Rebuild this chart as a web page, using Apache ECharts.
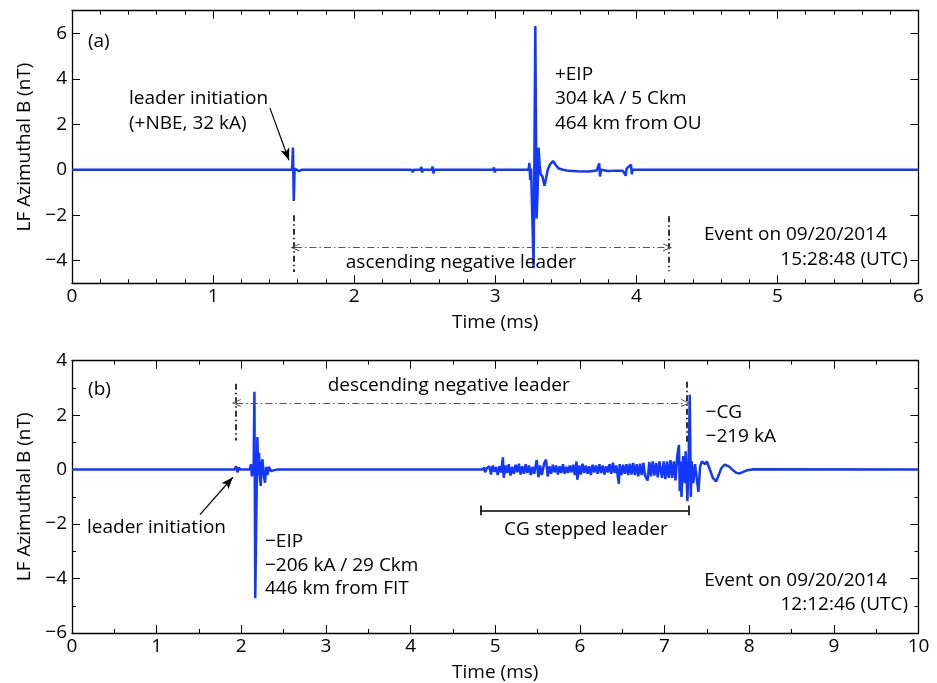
<!DOCTYPE html>
<html><head><meta charset="utf-8">
<script src="https://cdn.jsdelivr.net/npm/echarts@6/dist/echarts.min.js"></script>
<style>html,body{margin:0;padding:0;background:#fff}#c{width:937px;height:683px}</style>
</head><body><div id="c"></div>
<script>
// ---------- DATA (time in ms, LF azimuthal B in nT) ----------
const traceA = [
  [0,0],[1.560,0],[1.566,0.98],[1.572,-1.38],[1.578,0.05],[1.584,0],
  [1.610,-0.06],[1.620,-0.1],[1.630,0],
  [2.405,0],[2.410,0.08],[2.416,-0.1],[2.422,0],
  [2.470,0],[2.476,0.12],[2.482,-0.12],[2.488,0],
  [2.550,0],[2.556,0.14],[2.562,-0.16],[2.568,0],
  [2.985,0],[2.991,0.1],[2.997,-0.12],[3.003,0],
  [3.236,0],[3.242,0.3],[3.248,-0.45],[3.254,0.05],[3.262,0],
  [3.272,-4.33],[3.284,6.33],[3.293,-2.15],[3.300,-1.0],[3.307,0.97],
  [3.315,0.2],[3.322,-0.2],[3.335,-0.3],[3.349,-0.7],[3.360,-0.4],[3.372,0],
  [3.390,0.25],[3.410,0.38],[3.430,0.2],[3.450,0.05],[3.480,0],[3.520,-0.05],
  [3.580,-0.07],[3.660,-0.08],[3.720,-0.03],[3.737,0.28],[3.743,-0.3],[3.749,0],
  [3.760,-0.04],[3.800,-0.06],[3.860,-0.04],[3.905,-0.05],[3.925,-0.26],[3.931,0.05],
  [3.940,0],[3.962,0.22],[3.968,-0.2],[3.974,0],[3.985,-0.02],[4.020,0],[4.100,0],[6,0]
];
const traceB = [
  [0,0],[1.920,0],[1.940,0.12],[1.955,-0.1],[1.970,0.08],[1.985,0],
  [2.100,0],[2.115,0.2],[2.125,-0.25],[2.135,0.15],[2.145,-0.2],
  [2.155,2.86],[2.165,-4.72],[2.190,1.2],[2.200,-0.2],[2.210,0.62],[2.220,-0.3],
  [2.230,-0.6],[2.240,0.2],[2.250,0.38],[2.265,-0.2],[2.280,-0.48],[2.295,0.1],
  [2.310,-0.2],[2.325,0.1],[2.350,-0.05],[2.420,0],
  [4.850,0],[4.870,0.08],[4.880,-0.1],[4.900,0.05],[4.930,0.12],[4.950,-0.18],[4.970,0.15],
  [4.990,-0.08],[5.010,0.1],[5.030,-0.2],[5.050,0.12],[5.070,-0.1],[5.090,0.45],[5.100,-0.3],
  [5.120,0.15],[5.140,-0.12],[5.160,0.2],[5.180,-0.22],[5.200,0.1],[5.220,-0.15],[5.240,0.18],
  [5.260,-0.1],[5.280,0.22],[5.300,-0.18],[5.320,0.12],[5.340,-0.15],[5.360,0.2],[5.380,-0.12],
  [5.400,0.15],[5.420,-0.2],[5.440,0.1],[5.460,-0.15],[5.490,0.35],[5.510,-0.28],[5.530,0.15],
  [5.550,-0.2],[5.580,0.25],[5.600,0.37],[5.620,-0.25],[5.640,0.12],[5.660,-0.15],[5.680,0.18],
  [5.700,-0.1],[5.720,0.15],[5.740,-0.18],[5.760,0.12],[5.780,-0.12],[5.800,0.2],[5.820,-0.15],
  [5.840,0.1],[5.860,-0.12],[5.880,0.15],[5.900,-0.1],[5.920,0.18],[5.940,-0.2],[5.960,0.3],
  [5.970,-0.37],[5.990,0.15],[6.010,-0.18],[6.030,0.22],[6.050,-0.12],[6.070,0.15],[6.090,-0.15],
  [6.110,0.12],[6.130,-0.2],[6.150,0.18],[6.170,-0.1],[6.190,0.15],[6.210,-0.15],[6.230,0.2],
  [6.250,-0.12],[6.270,0.15],[6.290,-0.18],[6.310,0.12],[6.330,-0.1],[6.350,0.2],[6.370,-0.15],
  [6.390,0.25],[6.410,-0.12],[6.430,0.15],[6.460,-0.52],[6.470,0.2],[6.490,-0.2],[6.510,0.18],
  [6.530,-0.15],[6.550,0.2],[6.570,-0.2],[6.590,0.22],[6.610,-0.18],[6.630,0.25],[6.650,-0.2],
  [6.670,0.2],[6.690,-0.25],[6.710,0.22],[6.730,-0.2],[6.750,0.25],[6.770,-0.22],[6.800,-0.4],
  [6.820,0.28],[6.840,-0.25],[6.860,0.3],[6.880,-0.22],[6.900,0.25],[6.920,-0.28],[6.940,0.3],
  [6.960,0.37],[6.970,-0.3],[6.990,0.3],[7.010,-0.35],[7.030,0.3],[7.050,-0.3],[7.070,0.35],
  [7.090,-0.3],[7.110,0.3],[7.130,-0.4],[7.150,0.5],[7.170,0.91],[7.180,-0.79],[7.190,0.3],
  [7.200,-1.0],[7.220,0.5],[7.240,-0.5],[7.250,0.67],[7.270,-1.16],[7.285,0.4],[7.298,2.75],
  [7.310,-1.0],[7.320,0.3],[7.340,-0.5],[7.360,0.2],[7.380,-0.3],[7.400,-0.82],[7.420,0.1],
  [7.440,0.3],[7.460,0.37],[7.480,0.2],[7.500,0.3],[7.530,0.05],[7.570,-0.3],[7.610,-0.43],
  [7.640,-0.2],[7.670,0.05],[7.710,0.18],[7.760,0.12],[7.800,0],[7.850,-0.12],[7.890,-0.14],
  [7.930,-0.08],[7.980,-0.02],[8.050,0.01],[10,0]
];
const xRangeA = [0, 6];
const yRangeA = [-5, 7];
const yTicksA = [-4, -2, 0, 2, 4, 6];
const xRangeB = [0, 10];
const yRangeB = [-6, 4];
const yAxisTitle = 'LF Azimuthal B (nT)';
const xAxisTitle = 'Time (ms)';

// ---------- annotations (data coordinates) ----------
const notesA = [
  {text:'(a)', at:[0.113,5.62]},
  {text:'leader initiation', at:[0.404,3.15]},
  {text:'(+NBE, 32 kA)', at:[0.404,2.05]},
  {text:'+EIP', at:[3.423,4.17]},
  {text:'304 kA / 5 Ckm', at:[3.423,3.11]},
  {text:'464 km from OU', at:[3.423,2.05]},
  {text:'ascending negative leader', at:[2.757,-4.07], align:'center'},
  {text:'Event on 09/20/2014', at:[4.479,-2.84]},
  {text:'15:28:48 (UTC)', at:[5.925,-3.94], align:'right'}
];
const notesB = [
  {text:'(b)', at:[0.19,2.93]},
  {text:'descending negative leader', at:[4.45,3.07], align:'center'},
  {text:'leader initiation', at:[0.177,-2.13]},
  {text:'\u2212EIP', at:[2.28,-2.63]},
  {text:'\u2212206 kA / 29 Ckm', at:[2.28,-3.52]},
  {text:'446 km from FIT', at:[2.28,-4.37]},
  {text:'\u2212CG', at:[7.484,2.11]},
  {text:'\u2212219 kA', at:[7.484,1.22]},
  {text:'CG stepped leader', at:[6.07,-2.2], align:'center'},
  {text:'Event on 09/20/2014', at:[7.468,-4.07]},
  {text:'12:12:46 (UTC)', at:[9.877,-4.95], align:'right'}
];

const FONT = '"Open Sans", sans-serif';
const FS = 19;
const BLUE = '#1238ff';
const fmt = v => String(v).replace('-', '\u2212');
const chevron = 'path://M5,0 L10,10 L8.6,10 L5,2.4 L1.4,10 L0,10 Z';

function seg(a, b, style, s1, s2, size) {
  return [
    {coord:a, symbol:s1||'none', symbolSize:size||8},
    {coord:b, symbol:s2||'none', symbolSize:size||8, lineStyle:style}
  ];
}
const vdash = {color:'#000', width:1.6, type:[6,3,1.5,3]};
const hdash = {color:'#555', width:1, type:[7,3,1.5,3]};
const solid = {color:'#000', width:1.2, type:'solid'};
const solidB = {color:'#000', width:1.6, type:'solid'};

const linesA = [
  seg([1.403,2.71],[1.538,0.42], solid, 'none', 'arrow', [7,12]),
  seg([1.575,-2.0],[1.575,-4.5], vdash),
  seg([4.229,-2.05],[4.229,-4.47], vdash),
  seg([1.58,-3.42],[4.222,-3.42], hdash, chevron, chevron, [8,9])
];
const linesB = [
  seg([1.512,-1.65],[1.90,-0.28], solid, 'none', 'arrow', [7,12]),
  seg([1.929,3.15],[1.929,1.07], vdash),
  seg([7.26,3.23],[7.26,0.98], vdash),
  seg([1.94,2.45],[7.25,2.45], hdash, chevron, chevron, [8,9]),
  seg([4.827,-1.5],[7.28,-1.5], solidB),
  seg([4.827,-1.32],[4.827,-1.68], solidB),
  seg([7.28,-1.32],[7.28,-1.68], solidB)
];

function xAx(grid, range, minorSplit, pos) {
  const bottom = pos === 'bottom';
  return {
    type:'value', gridIndex:grid, position:pos, min:range[0], max:range[1], interval:1,
    axisLine:{show:true, onZero:false, lineStyle:{color:'#000', width:1.3}},
    axisTick:{show:true, inside:true, length:8, lineStyle:{color:'#000', width:1}},
    minorTick:{show:true, splitNumber:minorSplit, length:4, lineStyle:{color:'#000', width:1}},
    splitLine:{show:false}, minorSplitLine:{show:false},
    axisLabel:{show:bottom, color:'#000', fontFamily:FONT, fontSize:FS, margin:4, formatter:fmt},
    name: bottom ? xAxisTitle : '', nameLocation:'middle', nameGap:30,
    nameTextStyle:{color:'#000', fontFamily:FONT, fontSize:FS}
  };
}
function yAxA(grid, pos) {
  const left = pos === 'left';
  return {
    type:'value', gridIndex:grid, position:pos, min:yRangeA[0], max:yRangeA[1], interval:1,
    axisLine:{show:true, onZero:false, lineStyle:{color:'#000', width:1.3}},
    axisTick:{show:true, inside:true, length:8, customValues:yTicksA, lineStyle:{color:'#000', width:1}},
    splitLine:{show:false},
    axisLabel:{show:left, customValues:yTicksA, color:'#000', fontFamily:FONT, fontSize:FS, margin:5, formatter:fmt},
    name: left ? yAxisTitle : '', nameLocation:'middle', nameGap:36,
    nameTextStyle:{color:'#000', fontFamily:FONT, fontSize:FS}
  };
}
function yAxB(grid, pos) {
  const left = pos === 'left';
  return {
    type:'value', gridIndex:grid, position:pos, min:yRangeB[0], max:yRangeB[1], interval:2,
    axisLine:{show:true, onZero:false, lineStyle:{color:'#000', width:1.3}},
    axisTick:{show:true, inside:true, length:8, lineStyle:{color:'#000', width:1}},
    minorTick:{show:true, splitNumber:2, length:4, lineStyle:{color:'#000', width:1}},
    splitLine:{show:false}, minorSplitLine:{show:false},
    axisLabel:{show:left, color:'#000', fontFamily:FONT, fontSize:FS, margin:5, formatter:fmt},
    name: left ? yAxisTitle : '', nameLocation:'middle', nameGap:36,
    nameTextStyle:{color:'#000', fontFamily:FONT, fontSize:FS}
  };
}

const chart = echarts.init(document.getElementById('c'), null, {renderer:'canvas'});
const option = {
  animation:false,
  backgroundColor:'#fff',
  grid:[
    {left:72, right:18.5, top:10.7, height:272.6},
    {left:72, right:18.5, top:360.7, height:273.3}
  ],
  xAxis:[ xAx(0, xRangeA, 5, 'bottom'), xAx(0, xRangeA, 5, 'top'),
          xAx(1, xRangeB, 2, 'bottom'), xAx(1, xRangeB, 2, 'top') ],
  yAxis:[ yAxA(0,'left'), yAxA(0,'right'), yAxB(1,'left'), yAxB(1,'right') ],
  series:[
    {type:'line', xAxisIndex:0, yAxisIndex:0, data:traceA, showSymbol:false, sampling:null,
     lineStyle:{color:BLUE, width:2.5}, silent:true, z:3,
     markLine:{silent:true, animation:false, label:{show:false}, emphasis:{disabled:true}, data:linesA}},
    {type:'line', xAxisIndex:2, yAxisIndex:2, data:traceB, showSymbol:false, sampling:null,
     lineStyle:{color:BLUE, width:2.5}, silent:true, z:3,
     markLine:{silent:true, animation:false, label:{show:false}, emphasis:{disabled:true}, data:linesB}}
  ]
};
chart.setOption(option);

function noteGraphics(notes, xi, yi) {
  return notes.map(n => {
    const p = chart.convertToPixel({xAxisIndex:xi, yAxisIndex:yi}, n.at);
    return {type:'text', x:p[0], y:p[1], silent:true, z:10,
      style:{text:n.text, fill:'#000', font: FS + 'px ' + FONT,
             textAlign:n.align||'left', textVerticalAlign:'middle'}};
  });
}
chart.setOption({graphic:[...noteGraphics(notesA,0,0), ...noteGraphics(notesB,2,2)]});
</script>
</body></html>
